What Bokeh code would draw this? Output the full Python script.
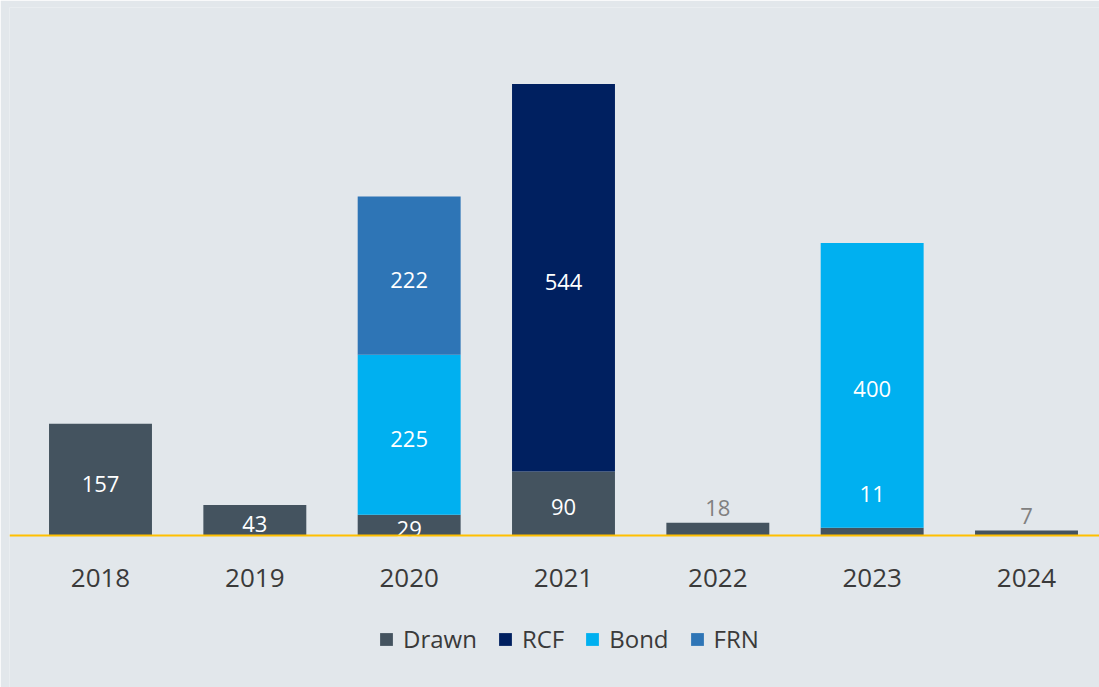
from bokeh.plotting import figure
from bokeh.models import (Range1d, Span, Legend, LegendItem, ColumnDataSource)
from bokeh.core.properties import value
from bokeh.embed import file_html
from bokeh.resources import INLINE

# ---- data ----
years = ["2018", "2019", "2020", "2021", "2022", "2023", "2024"]
series = ["Drawn", "RCF", "Bond", "FRN"]
drawn = [157, 43, 29, 90, 18, 11, 7]
rcf = [0, 0, 0, 544, 0, 0, 0]
bond = [0, 0, 225, 0, 0, 400, 0]
frn = [0, 0, 222, 0, 0, 0, 0]
colors = ["#44535f", "#002060", "#00b0f0", "#2e75b6"]

BG = "#e2e7eb"
FONT = "Open Sans"

xs = list(range(len(years)))
data = dict(x=xs, Drawn=drawn, RCF=rcf, Bond=bond, FRN=frn)
src = ColumnDataSource(data)

p = figure(output_backend="svg", toolbar_location=None,
           width=1099, height=687,
           min_border_left=9, min_border_right=0, min_border_top=7,
           min_border_bottom=0, x_axis_location=None, y_axis_location=None,
           x_range=Range1d(-0.5896, 6.473), y_range=Range1d(-213.5, 741.6))
p.background_fill_color = BG
p.border_fill_color = BG
p.outline_line_color = None
p.grid.visible = False

renderers = p.vbar_stack(series, x="x", width=0.667, source=src,
                         color=colors, line_color=None)

# baseline
p.add_layout(Span(location=0, dimension="width", line_color="#ffc000",
                  line_width=2))

# year labels (category labels) under the baseline
p.text(x=xs, y=[0] * len(xs), text=years, text_align="center",
       text_baseline="middle", y_offset=43, text_color="#3a3a3a",
       text_font=value(FONT), text_font_size="26px")

# data labels
cols = [drawn, rcf, bond, frn]
in_x, in_y, in_t = [], [], []
out_x, out_y, out_t, out_off, out_col = [], [], [], [], []
for i in xs:
    base = 0
    for k, c in enumerate(cols):
        v = c[i]
        if v <= 0:
            continue
        above = any(cc[i] > 0 for cc in cols[k + 1:])
        if v >= 25:
            in_x.append(i); in_y.append(base + v / 2); in_t.append(str(v))
        else:
            out_x.append(i); out_y.append(base + v); out_t.append(str(v))
            out_off.append(-34 if above else -15)
            out_col.append("#ffffff" if above else "#808080")
        base += v

p.text(x=in_x, y=in_y, text=in_t, text_align="center",
       text_baseline="middle", y_offset=4, text_color="#ffffff",
       text_font=value(FONT), text_font_size="22px")
p.text(x=out_x, y=out_y, text=out_t, text_align="center",
       text_baseline="middle", y_offset=out_off, text_color=out_col,
       text_font=value(FONT), text_font_size="22px")

legend = Legend(items=[LegendItem(label=s, renderers=[r])
                       for s, r in zip(series, renderers)],
                orientation="horizontal", location=(369, 32),
                glyph_width=16, glyph_height=16, label_standoff=9, spacing=20,
                label_text_font=FONT, label_text_font_size="24px",
                label_text_color="#3a3a3a", background_fill_alpha=0,
                border_line_color=None, margin=0, padding=0)
p.add_layout(legend, "center")

open("out.html", "w").write(file_html(p, INLINE))
